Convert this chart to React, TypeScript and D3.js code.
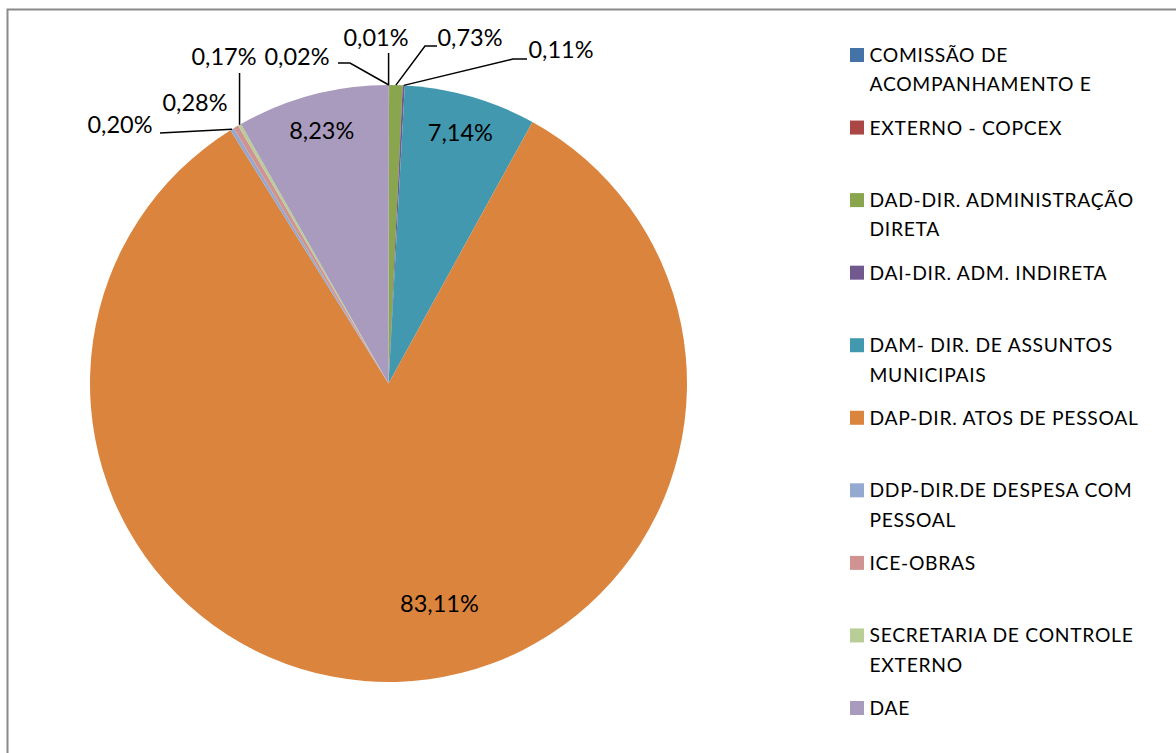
import React, { useEffect, useRef } from 'react';
import * as d3 from 'd3';

const categories = [
  'COMISSÃO DE ACOMPANHAMENTO E',
  'EXTERNO - COPCEX',
  'DAD-DIR. ADMINISTRAÇÃO DIRETA',
  'DAI-DIR. ADM. INDIRETA',
  'DAM- DIR. DE ASSUNTOS MUNICIPAIS',
  'DAP-DIR. ATOS DE PESSOAL',
  'DDP-DIR.DE DESPESA COM PESSOAL',
  'ICE-OBRAS',
  'SECRETARIA DE CONTROLE EXTERNO',
  'DAE',
];

const shares = [0.01, 0.02, 0.73, 0.11, 7.14, 83.11, 0.2, 0.28, 0.17, 8.23];

// legend text as Excel wrapped it
const legendLines = [
  ['COMISSÃO DE', 'ACOMPANHAMENTO E'],
  ['EXTERNO - COPCEX'],
  ['DAD-DIR. ADMINISTRAÇÃO', 'DIRETA'],
  ['DAI-DIR. ADM. INDIRETA'],
  ['DAM- DIR. DE ASSUNTOS', 'MUNICIPAIS'],
  ['DAP-DIR. ATOS DE PESSOAL'],
  ['DDP-DIR.DE DESPESA COM', 'PESSOAL'],
  ['ICE-OBRAS'],
  ['SECRETARIA DE CONTROLE', 'EXTERNO'],
  ['DAE'],
];

const colors = [
  '#4572A7', '#AA4643', '#89A54E', '#71588F', '#4198AF',
  '#DB843D', '#93A9CF', '#D19392', '#B9CD96', '#A99BBD',
];

const width = 1176;
const height = 753;
const cx = 388.5;
const cy = 383.5;
const radius = 298.5;
const font = 'Lato, "Noto Sans", sans-serif';

// where the labels of the thin slices sit (text centre, baseline) and the leader elbows
type Outer = { x: number; y: number; elbow?: [number, number][]; vTop?: number };
const outerLabels: Record<number, Outer> = {
  0: { x: 376, y: 46, vTop: 53 },
  1: { x: 297, y: 65, elbow: [[338, 63], [350, 63]] },
  2: { x: 470, y: 46, elbow: [[437, 46], [425, 46]] },
  3: { x: 561, y: 58, elbow: [[527, 59], [513, 59]] },
  6: { x: 120, y: 133, elbow: [[160, 133]] },
  7: { x: 195, y: 111 },
  8: { x: 224, y: 65, vTop: 73 },
};

const fmt = (v: number) => d3.format('.2f')(v).replace('.', ',') + '%';

const App: React.FC = () => {
  const svgRef = useRef<SVGSVGElement>(null);

  useEffect(() => {
    if (!svgRef.current) return;
    const svg = d3.select(svgRef.current);
    svg.selectAll('*').remove();

    // chart area frame (only the top and left edges are on screen)
    svg.append('rect')
      .attr('x', 7.5)
      .attr('y', 9.5)
      .attr('width', 2000)
      .attr('height', 2000)
      .attr('fill', 'white')
      .attr('stroke', '#8a8a8a')
      .attr('stroke-width', 2);

    const data = categories.map((c, i) => ({ name: c, value: shares[i], i }));
    const pie = d3.pie<{ name: string; value: number; i: number }>()
      .value(d => d.value)
      .sort(null);
    const arcs = pie(data);

    const arc = d3.arc<d3.PieArcDatum<any>>().innerRadius(0).outerRadius(radius);
    const edge = d3.arc<d3.PieArcDatum<any>>().innerRadius(radius).outerRadius(radius);
    const inside = d3.arc<d3.PieArcDatum<any>>().innerRadius(261).outerRadius(261);

    const g = svg.append('g').attr('transform', `translate(${cx},${cy})`);

    g.selectAll('path.slice')
      .data(arcs)
      .join('path')
      .attr('class', 'slice')
      .attr('d', arc as any)
      .attr('fill', d => colors[d.data.i]);

    // leader lines
    arcs.forEach(a => {
      const o = outerLabels[a.data.i];
      if (!o) return;
      const [ex, ey] = edge.centroid(a);
      const px = ex + cx;
      const py = ey + cy;
      let pts: [number, number][] = [];
      if (o.vTop !== undefined) pts = [[px, o.vTop], [px, py]];
      else if (o.elbow) pts = [...o.elbow, [px, py]];
      if (pts.length < 2) return;
      svg.append('path')
        .attr('d', d3.line()(pts))
        .attr('fill', 'none')
        .attr('stroke', '#000')
        .attr('stroke-width', 1.5);
    });

    // data labels
    arcs.forEach(a => {
      const i = a.data.i;
      const o = outerLabels[i];
      let x: number;
      let y: number;
      if (o) {
        x = o.x;
        y = o.y;
      } else if (i === 5) {
        // Excel nudged the big slice's label off the bisector
        const c = d3.arc<d3.PieArcDatum<any>>().innerRadius(226).outerRadius(226)
          .centroid({ ...a, startAngle: a.startAngle, endAngle: a.endAngle - 0.4 });
        x = c[0] + cx;
        y = c[1] + cy + 8;
      } else {
        const c = inside.centroid(a);
        x = c[0] + cx;
        y = c[1] + cy + 8;
      }
      svg.append('text')
        .attr('x', x)
        .attr('y', y)
        .attr('text-anchor', 'middle')
        .attr('font-family', font)
        .attr('font-size', 23.5)
        .attr('fill', '#000')
        .text(fmt(a.data.value));
    });

    // legend
    const rowY = d3.scaleLinear().domain([0, categories.length - 1]).range([62, 715]);
    const legend = svg.append('g');
    legendLines.forEach((lines, i) => {
      const y = rowY(i);
      legend.append('rect')
        .attr('x', 850)
        .attr('y', y - 14)
        .attr('width', 14)
        .attr('height', 14)
        .attr('fill', colors[i]);
      const t = legend.append('text')
        .attr('font-family', font)
        .attr('font-size', 19.3)
        .attr('letter-spacing', 0.7)
        .attr('fill', '#000');
      lines.forEach((ln, k) => {
        t.append('tspan')
          .attr('x', 869.5)
          .attr('y', y + k * 29.3)
          .text(ln);
      });
    });
  }, []);

  return (
    <svg
      ref={svgRef}
      width={width}
      height={height}
      viewBox={`0 0 ${width} ${height}`}
      style={{ position: 'absolute', left: 0, top: 0, background: 'white' }}
    />
  );
};

export default App;
